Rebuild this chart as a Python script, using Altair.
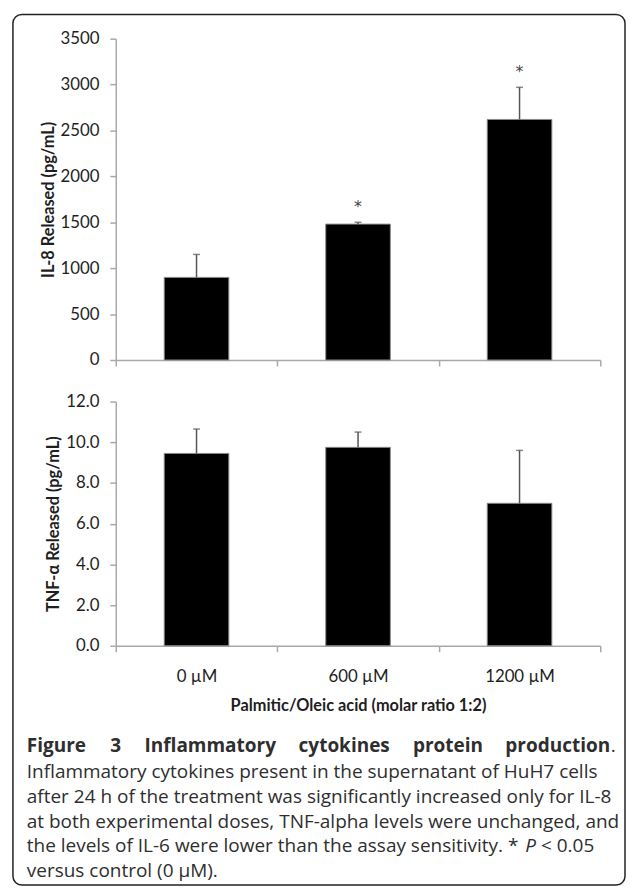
import altair as alt
import pandas as pd

# ---------------- data ----------------
doses = ["0 µM", "600 µM", "1200 µM"]

il8_mean = [900, 1480, 2620]
il8_err = [250, 20, 350]
il8_sig = ["", "*", "*"]
il8_ticks = [0, 500, 1000, 1500, 2000, 2500, 3000, 3500]

tnf_mean = [9.45, 9.75, 7.0]
tnf_err = [1.2, 0.75, 2.6]
tnf_sig = ["", "", ""]
tnf_ticks = [0, 2, 4, 6, 8, 10, 12]

x_title = "Palmitic/Oleic acid (molar ratio 1:2)"
il8_title = "IL-8 Released (pg/mL)"
tnf_title = "TNF-α Released (pg/mL)"

caption_bold_words = ["Figure", "3", "Inflammatory", "cytokines", "protein", "production"]
caption_lines = [
    "Inflammatory cytokines present in the supernatant of HuH7 cells",
    "after 24 h of the treatment was significantly increased only for IL-8",
    "at both experimental doses, TNF-alpha levels were unchanged, and",
    "the levels of IL-6 were lower than the assay sensitivity. *",
    "versus control (0 µM).",
]
caption_italic = "P"
caption_tail = "< 0.05"

# ---------------- layout constants ----------------
W = 490
H_TOP = 325
H_BOT = 247
AXIS_GRAY = "#a8a8a8"
CAP_FONT = "Open Sans"
CAP_SIZE = 19.2
CAP_LEFT = 26


def panel(mean, err, sig, ticks, ytitle, fmt, bottom):
    df = pd.DataFrame({
        "dose": doses,
        "mean": mean,
        "upper": [m + e for m, e in zip(mean, err)],
        "sig": sig,
    })
    xaxis = alt.Axis(
        title=x_title if bottom else None,
        labels=bottom,
        labelAngle=0,
        tickBand="extent",
        labelPadding=17,
        titlePadding=13,
    )
    x = alt.X("dose:N", sort=doses,
              scale=alt.Scale(paddingInner=0, paddingOuter=0), axis=xaxis)
    y = alt.Y("mean:Q",
              scale=alt.Scale(domain=[0, ticks[-1]], nice=False, zero=True),
              axis=alt.Axis(values=ticks, format=fmt, title=ytitle,
                            labelPadding=11, titlePadding=4))
    base = alt.Chart(df)
    bars = base.mark_bar(color="black", stroke="#8a8a8a", strokeWidth=1,
                         width=alt.RelativeBandSize(0.4)).encode(x=x, y=y)
    err_rule = base.mark_rule(color="#555555", strokeWidth=1.5).encode(
        x=alt.X("dose:N", sort=doses), y="upper:Q", y2="mean:Q")
    cap = base.mark_tick(color="#555555", size=7, thickness=1.5).encode(
        x=alt.X("dose:N", sort=doses), y="upper:Q")
    star = base.mark_text(dy=-15, fontSize=16, color="#444444",
                          font="DejaVu Sans").encode(
        x=alt.X("dose:N", sort=doses), y="upper:Q", text="sig:N")
    return [bars, err_rule, cap, star]


top_layers = panel(il8_mean, il8_err, il8_sig, il8_ticks, il8_title, "d", False)
bot_layers = panel(tnf_mean, tnf_err, tnf_sig, tnf_ticks, tnf_title, ".1f", True)

# Bottom panel origin on the page is (116, 400); caption/frame placed relative to it
OX, OY = 116, 400
dummy = pd.DataFrame({"k": [0]})


def text_layer(txt, px, py, align="left", weight="normal", style="normal", size=CAP_SIZE):
    return alt.Chart(dummy).mark_text(
        text=txt, align=align, baseline="middle", font=CAP_FONT, fontSize=size,
        fontWeight=weight, fontStyle=style, color="#2e2e2e",
    ).encode(x=alt.value(px - OX), y=alt.value(py - OY))


frame = alt.Chart(dummy).mark_rect(
    fillOpacity=0, stroke="#222222", strokeWidth=1.5, cornerRadius=9
).encode(x=alt.value(12 - OX), x2=alt.value(631 - OX),
         y=alt.value(8.5 - OY), y2=alt.value(889 - OY))

caption = []
# justified bold title line
bold_pos = [(CAP_LEFT, "left"), (116, "center"), (211.5, "center"), (347, "center"),
            (452, "center"), (616, "right")]
for w, (px, al) in zip(caption_bold_words, bold_pos):
    caption.append(text_layer(w, px, 748, align=al, weight="bold"))
caption.append(text_layer(".", 616.5, 748))
line_y = [775, 800, 825, 850, 875]
for t, py in zip(caption_lines, line_y):
    caption.append(text_layer(t, CAP_LEFT, py))
caption.append(text_layer(caption_italic, 530, 850, style="italic"))
caption.append(text_layer(caption_tail, 546, 850))

top = alt.layer(*top_layers).properties(width=W, height=H_TOP)
bottom = alt.layer(*bot_layers, frame, *caption).properties(width=W, height=H_BOT)

chart = alt.vconcat(top, bottom, spacing=42, bounds="flush").properties(
    padding={"left": 4, "top": 0, "right": 0, "bottom": 0}
).configure_view(stroke=None).configure_axis(
    domainColor=AXIS_GRAY, tickColor=AXIS_GRAY, domainWidth=1.5, tickWidth=1.5,
    tickSize=6, grid=False,
    labelFont="Lato", labelFontSize=17, labelColor="#1e1e1e",
    titleFont="Lato", titleFontSize=16.5, titleFontWeight="bold", titleColor="#1e1e1e",
)

chart.save("out.html", embed_options={"renderer": "svg", "actions": False})
